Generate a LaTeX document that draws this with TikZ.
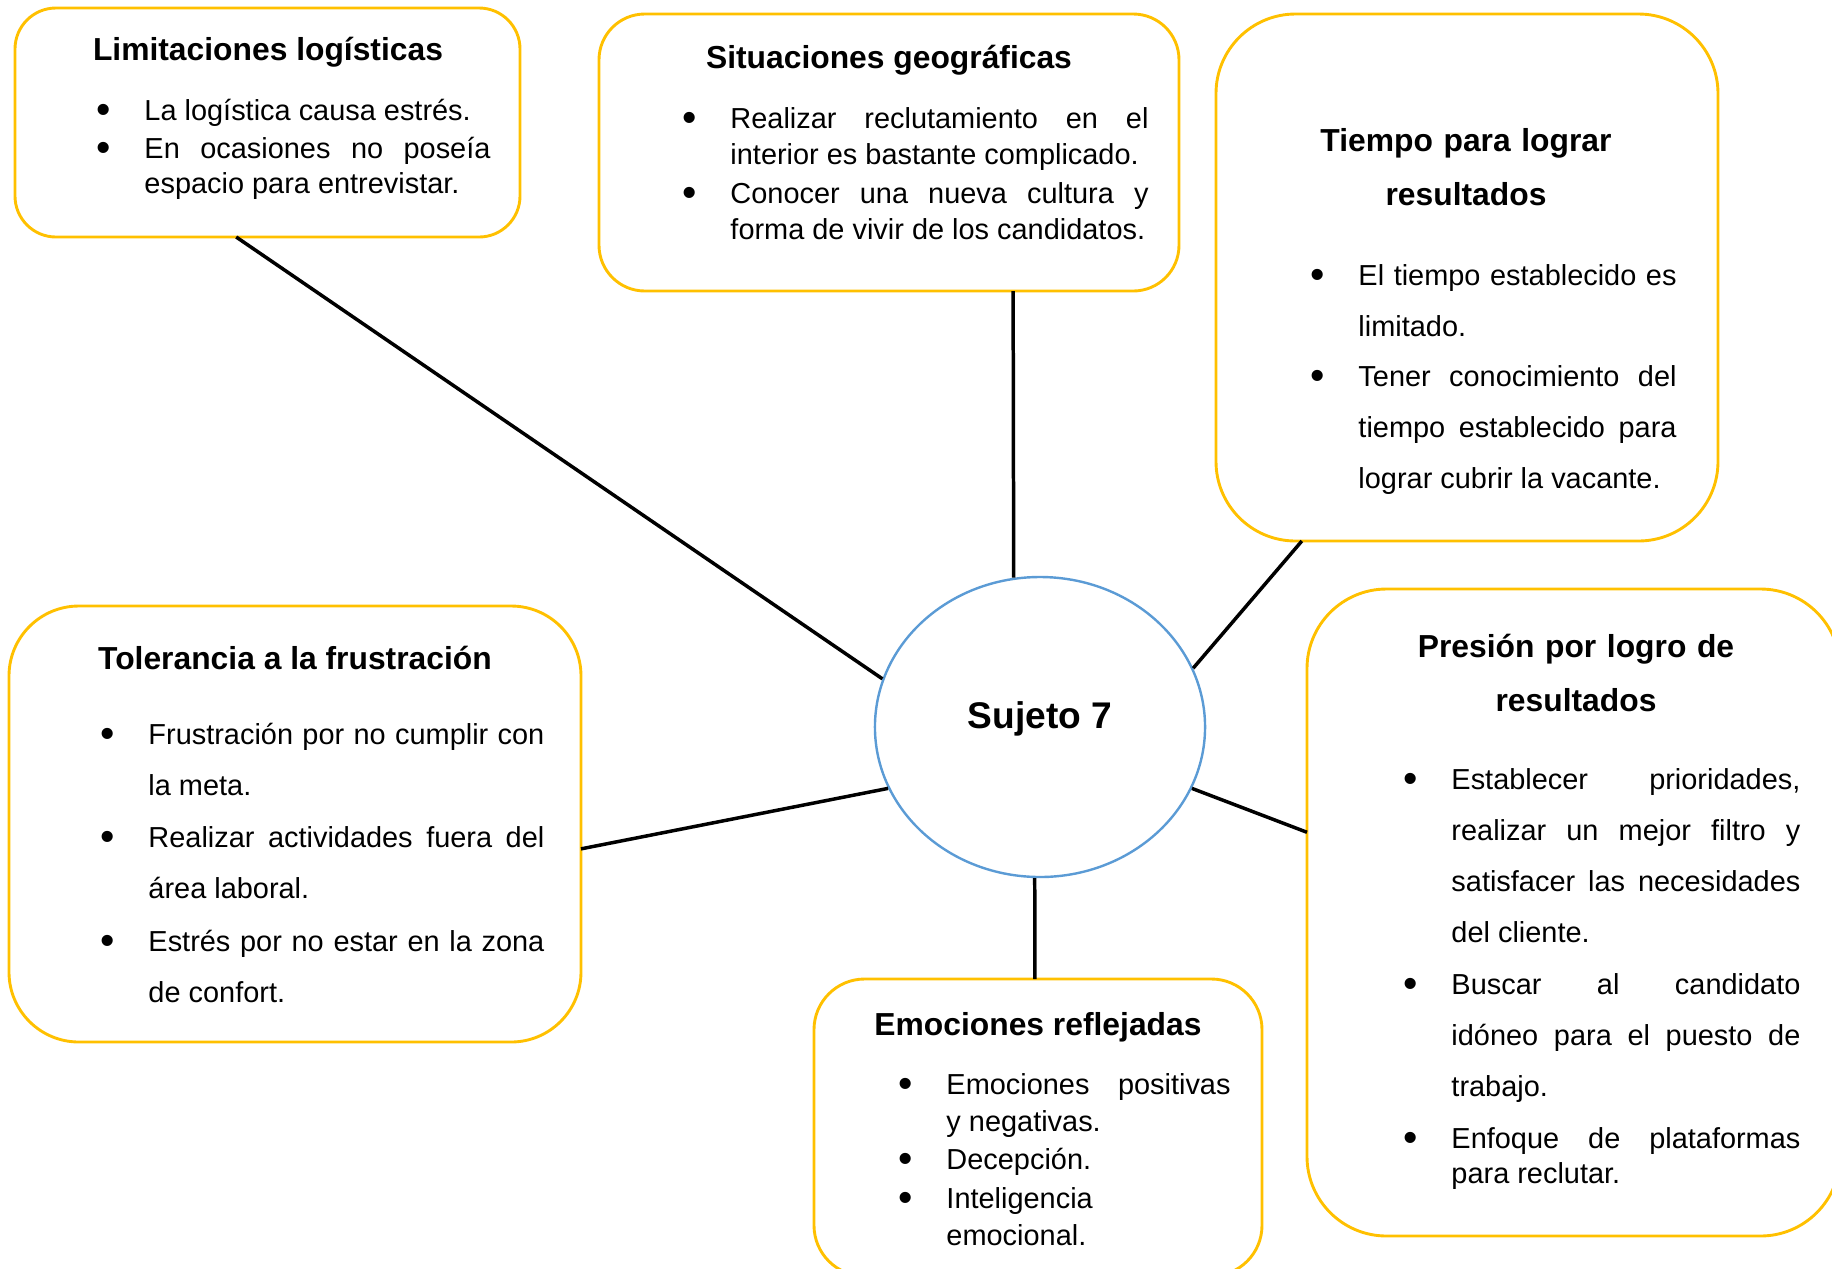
\documentclass[tikz,border=0pt]{standalone}
\usepackage{fontspec}
\setmainfont{Liberation Sans}
\usetikzlibrary{shapes.geometric,fit,calc}
\definecolor{boxGold}{HTML}{FFC000}
\definecolor{ovalBlue}{HTML}{5B9BD5}

\begin{document}
\begin{tikzpicture}[x=0.415pt, y=-0.415pt,
        themeBox/.style={draw=boxGold, line width=1.2pt, rounded corners=#1, inner sep=0pt, outer sep=0pt},
        themeTitle/.style={anchor=base, inner sep=0pt, font=\fontsize{13.2}{22.8}\selectfont\bfseries},
        themeItem/.style 2 args={anchor=base west, inner sep=0pt, text width=#1, align=justify, font=\fontsize{12}{#2}\selectfont},
        link/.style={line width=1.45pt, black}]

        \def\bul{\leavevmode\llap{\makebox[0pt]{\raisebox{-1.3pt}{\fontsize{17}{0}\selectfont\textbullet}}\hspace{17pt}}}

        \useasboundingbox (0,0) rectangle (1832,1268);
        \clip (0,0) rectangle (1832,1268);

        % centre
        \node[draw=ovalBlue, line width=1pt, ellipse, minimum width=137pt, minimum height=124.5pt, inner sep=0pt,
              text height=8pt, text depth=7pt, font=\fontsize{15.4}{18}\selectfont\bfseries] (sujeto) at (1040,727) {Sujeto 7};

        % Limitaciones
        \node[themeBox=17pt, fit={(15,8) (520,237)}] (logistica) {};
        \node[themeTitle] (logisticaT) at (268,60) {Limitaciones logísticas};
        \node[themeItem={143.6pt}{14.8pt}] (logistica1) at (144,120) {\bul La logística causa estrés.};
        \node[themeItem={143.6pt}{14.8pt}] (logistica2) at (144,158) {\bul En ocasiones no poseía\linebreak espacio para entrevistar.};

        % Situaciones
        \node[themeBox=19pt, fit={(599,14) (1179,291)}] (geografia) {};
        \node[themeTitle] (geografiaT) at (889,68) {Situaciones geográficas};
        \node[themeItem={173.5pt}{15pt}] (geografia1) at (730,128) {\bul Realizar reclutamiento en el\linebreak interior es bastante complicado.};
        \node[themeItem={173.5pt}{15pt}] (geografia2) at (730,203) {\bul Conocer una nueva cultura y\linebreak forma de vivir de los candidatos.};

        % Tiempo
        \node[themeBox=33pt, fit={(1216,14) (1718,541)}] (tiempo) {};
        \node[themeTitle, text width=124.5pt, align=center] (tiempoT) at (1466,151) {Tiempo para lograr\\resultados};
        \node[themeItem={132pt}{21.2pt}] (tiempo1) at (1358,285) {\bul El tiempo establecido es\linebreak limitado.};
        \node[themeItem={132pt}{21.2pt}] (tiempo2) at (1358,386) {\bul Tener conocimiento del\linebreak tiempo establecido para\linebreak lograr cubrir la vacante.};

        % Tolerancia
        \node[themeBox=29pt, fit={(9,606) (581,1042)}] (frustracion) {};
        \node[themeTitle] (frustracionT) at (295,669) {Tolerancia a la frustración};
        \node[themeItem={164.3pt}{21.4pt}] (frustracion1) at (148,744) {\bul Frustración por no cumplir con\linebreak la meta.};
        \node[themeItem={164.3pt}{21.4pt}] (frustracion2) at (148,847) {\bul Realizar actividades fuera del\linebreak área laboral.};
        \node[themeItem={164.3pt}{21.4pt}] (frustracion3) at (148,951) {\bul Estrés por no estar en la zona\linebreak de confort.};

        % Emociones
        \node[themeBox=21pt, fit={(814,979) (1262,1276)}] (emociones) {};
        \node[themeTitle] (emocionesT) at (1038,1035) {Emociones reflejadas};
        \node[themeItem={117.9pt}{15.4pt}] (emociones1) at (946,1094) {\bul Emociones positivas\linebreak y negativas.};
        \node[themeItem={117.9pt}{15.4pt}] (emociones2) at (946,1169) {\bul Decepción.};
        \node[themeItem={117.9pt}{15.4pt}] (emociones3) at (946,1208) {\bul Inteligencia\\ emocional.};

        % Presion
        \node[themeBox=33pt, fit={(1307,589) (1840,1236)}] (presion) {};
        \node[themeTitle, text width=137pt, align=center] (presionT) at (1576,657) {Presión por logro de\\resultados};
        \node[themeItem={144.8pt}{21.3pt}] (presion1) at (1451,789) {\bul Establecer prioridades,\linebreak realizar un mejor filtro y\linebreak satisfacer las necesidades\linebreak del cliente.};
        \node[themeItem={144.8pt}{21.3pt}] (presion2) at (1451,994) {\bul Buscar al candidato\linebreak idóneo para el puesto de\linebreak trabajo.};
        \node[themeItem={144.8pt}{14.9pt}] (presion3) at (1451,1148) {\bul Enfoque de plataformas\linebreak para reclutar.};

        % links
        \draw[link] ($(logistica.south west)!0.438!(logistica.south east)$) -- (sujeto.163);
        \draw[link] ($(geografia.south west)!0.714!(geografia.south east)$) -- (sujeto.100);
        \draw[link] ($(tiempo.south west)!0.171!(tiempo.south east)$) -- (sujeto.21);
        \draw[link] ($(frustracion.north east)!0.557!(frustracion.south east)$) -- (sujeto.202);
        \draw[link] ($(emociones.north west)!0.493!(emociones.north east)$) -- (sujeto.268);
        \draw[link] ($(presion.north west)!0.376!(presion.south west)$) -- (sujeto.338);

\end{tikzpicture}
\end{document}
